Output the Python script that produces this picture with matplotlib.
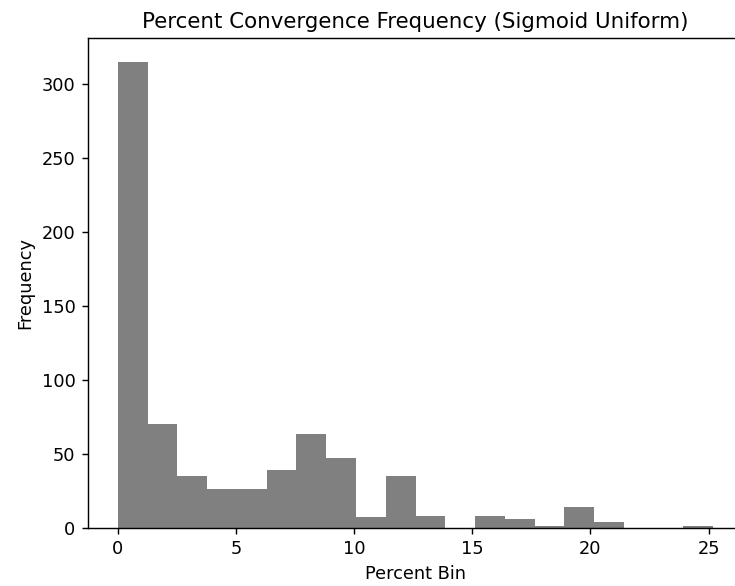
import numpy as np
import matplotlib
matplotlib.use("Agg")
import matplotlib.pyplot as plt

# histogram counts (20 bins)
bin_min = 0.0
bin_max = 25.2
n_bins = 20
counts = [315, 70, 35, 26, 26, 39, 63, 47, 7, 35,
          8, 0, 8, 6, 1, 14, 4, 0, 0, 1]

edges = np.linspace(bin_min, bin_max, n_bins + 1)
centers = (edges[:-1] + edges[1:]) / 2

dpi = 128
fig = plt.figure(figsize=(735 / dpi, 586 / dpi), dpi=dpi)
ax = fig.add_axes([88 / 735, (586 - 527.7) / 586, (743 - 88) / 735, (527.7 - 38.3) / 586])
ax.hist(centers, bins=edges, weights=counts, color="gray")
ax.set_title("Percent Convergence Frequency (Sigmoid Uniform)")
ax.set_xlabel("Percent Bin")
ax.set_ylabel("Frequency")

fig.savefig("out.png", dpi=dpi)
